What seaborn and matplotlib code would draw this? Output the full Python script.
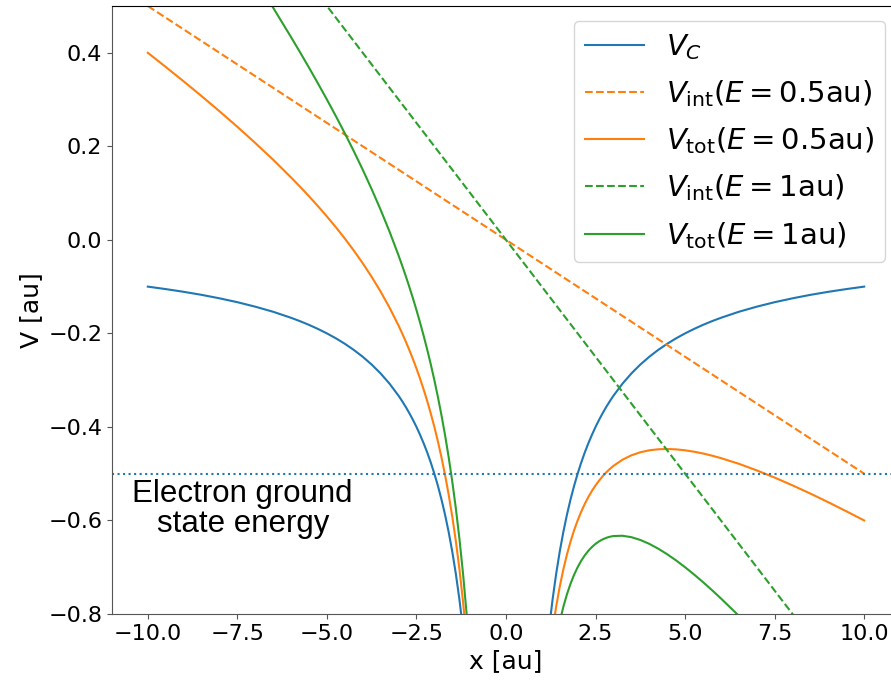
import matplotlib
matplotlib.use("Agg")
import matplotlib.pyplot as plt
import seaborn as sns

# ---- data ----
x_left = [-10, -9.5, -9, -8.5, -8, -7.5, -7, -6.5, -6, -5.75, -5.5, -5.25, -5, -4.75,
          -4.5, -4.25, -4, -3.75, -3.5, -3.25, -3, -2.9, -2.8, -2.7, -2.6, -2.5, -2.4,
          -2.3, -2.2, -2.1, -2.0, -1.9, -1.8, -1.7, -1.6, -1.5, -1.4, -1.3, -1.2, -1.1, -1.0]
x_right = [1.0, 1.1, 1.2, 1.3, 1.4, 1.5, 1.6, 1.7, 1.8, 1.9, 2.0, 2.1, 2.2, 2.3, 2.4,
           2.5, 2.6, 2.7, 2.8, 2.9, 3, 3.25, 3.5, 3.75, 4, 4.25, 4.5, 4.75, 5, 5.25,
           5.5, 5.75, 6, 6.5, 7, 7.5, 8, 8.5, 9, 9.5, 10]

v_coulomb_left = [-0.1, -0.1053, -0.1111, -0.1176, -0.125, -0.1333, -0.1429, -0.1538,
                  -0.1667, -0.1739, -0.1818, -0.1905, -0.2, -0.2105, -0.2222, -0.2353,
                  -0.25, -0.2667, -0.2857, -0.3077, -0.3333, -0.3448, -0.3571, -0.3704,
                  -0.3846, -0.4, -0.4167, -0.4348, -0.4545, -0.4762, -0.5, -0.5263,
                  -0.5556, -0.5882, -0.625, -0.6667, -0.7143, -0.7692, -0.8333, -0.9091, -1.0]
v_coulomb_right = [-1.0, -0.9091, -0.8333, -0.7692, -0.7143, -0.6667, -0.625, -0.5882,
                   -0.5556, -0.5263, -0.5, -0.4762, -0.4545, -0.4348, -0.4167, -0.4,
                   -0.3846, -0.3704, -0.3571, -0.3448, -0.3333, -0.3077, -0.2857, -0.2667,
                   -0.25, -0.2353, -0.2222, -0.2105, -0.2, -0.1905, -0.1818, -0.1739,
                   -0.1667, -0.1538, -0.1429, -0.1333, -0.125, -0.1176, -0.1111, -0.1053, -0.1]

v_tot_05_left = [0.4, 0.3697, 0.3389, 0.3074, 0.275, 0.2417, 0.2071, 0.1712, 0.1333,
                 0.1136, 0.0932, 0.0720, 0.05, 0.0270, 0.0028, -0.0228, -0.05, -0.0792,
                 -0.1107, -0.1452, -0.1833, -0.1998, -0.2171, -0.2354, -0.2546, -0.275,
                 -0.2967, -0.3198, -0.3445, -0.3712, -0.4, -0.4313, -0.4656, -0.5032,
                 -0.545, -0.5917, -0.6443, -0.7042, -0.7733, -0.8541, -0.95]
v_tot_05_right = [-1.05, -0.9641, -0.8933, -0.8342, -0.7843, -0.7417, -0.705, -0.6732,
                  -0.6456, -0.6213, -0.6, -0.5812, -0.5645, -0.5498, -0.5367, -0.525,
                  -0.5146, -0.5054, -0.4971, -0.4898, -0.4833, -0.4702, -0.4607, -0.4542,
                  -0.45, -0.4478, -0.4472, -0.4480, -0.45, -0.4530, -0.4568, -0.4614,
                  -0.4667, -0.4788, -0.4929, -0.5083, -0.525, -0.5426, -0.5611, -0.5803, -0.6]

v_tot_1_left = [0.9, 0.8447, 0.7889, 0.7324, 0.675, 0.6167, 0.5571, 0.4962, 0.4333,
                0.4011, 0.3682, 0.3345, 0.3, 0.2645, 0.2278, 0.1897, 0.15, 0.1083,
                0.0643, 0.0173, -0.0333, -0.0548, -0.0771, -0.1004, -0.1246, -0.15,
                -0.1767, -0.2048, -0.2345, -0.2662, -0.3, -0.3363, -0.3756, -0.4182,
                -0.465, -0.5167, -0.5743, -0.6392, -0.7133, -0.7991, -0.9]
v_tot_1_right = [-1.1, -1.0191, -0.9533, -0.8992, -0.8543, -0.8167, -0.785, -0.7582,
                 -0.7356, -0.7163, -0.7, -0.6862, -0.6745, -0.6648, -0.6567, -0.65,
                 -0.6446, -0.6404, -0.6371, -0.6348, -0.6333, -0.6327, -0.6357, -0.6417,
                 -0.65, -0.6603, -0.6722, -0.6855, -0.7, -0.7155, -0.7318, -0.7489,
                 -0.7667, -0.8038, -0.8429, -0.8833, -0.925, -0.9676, -1.0111, -1.0553, -1.1]

x_int = [-10, 10]
v_int_05 = [0.5, -0.5]
v_int_1 = [1.0, -1.0]

ground_state = -0.5

labels = [r"$V_C$", r"$V_{\rm int}(E=0.5{\rm au})$", r"$V_{\rm tot}(E=0.5{\rm au})$",
          r"$V_{\rm int}(E=1{\rm au})$", r"$V_{\rm tot}(E=1{\rm au})$"]
x_ticks = [-10, -7.5, -5, -2.5, 0, 2.5, 5, 7.5, 10]
x_tick_labels = ["\u221210.0", "\u22127.5", "\u22125.0", "\u22122.5", "0.0", "2.5", "5.0", "7.5", "10.0"]
y_ticks = [-0.8, -0.6, -0.4, -0.2, 0.0, 0.2, 0.4]

plt.rcParams['font.family'] = ['DejaVu Sans']
plt.rcParams['mathtext.fontset'] = 'dejavusans'

fig = plt.figure(figsize=(8.91, 6.82), dpi=100)
ax = fig.add_axes([112 / 891, 68 / 682, 788 / 891, 608 / 682])

x_all = x_left + x_right
sns.lineplot(x=x_all, y=v_coulomb_left + v_coulomb_right, ax=ax, color='C0', lw=1.5,
             label=labels[0], sort=False)
sns.lineplot(x=x_int, y=v_int_05, ax=ax, color='C1', lw=1.5, ls='--', label=labels[1], sort=False)
sns.lineplot(x=x_all, y=v_tot_05_left + v_tot_05_right, ax=ax, color='C1', lw=1.5,
             label=labels[2], sort=False)
sns.lineplot(x=x_int, y=v_int_1, ax=ax, color='C2', lw=1.5, ls='--', label=labels[3], sort=False)
sns.lineplot(x=x_all, y=v_tot_1_left + v_tot_1_right, ax=ax, color='C2', lw=1.5,
             label=labels[4], sort=False)

ax.axhline(ground_state, color='C0', ls=':', lw=1.5)

ax.set_xlim(-11, 11)
ax.set_ylim(-0.8, 0.5)
ax.set_xticks(x_ticks)
ax.set_xticklabels(x_tick_labels)
ax.set_yticks(y_ticks)
ax.tick_params(labelsize=16, color='#555555')
ax.set_xlabel("x [au]", fontsize=18)
ax.set_ylabel("V [au]", fontsize=18)
for s in ['left', 'bottom']:
    ax.spines[s].set_color('#555555')

ax.text(-7.35, -0.576, "Electron ground\nstate energy", ha='center', va='center',
        fontsize=22.5, family='Liberation Sans', linespacing=0.98, multialignment='center')

ax.legend(loc='upper right', fontsize=21, labelspacing=0.56, handletextpad=0.75)

fig.savefig("out.png", dpi=100)
